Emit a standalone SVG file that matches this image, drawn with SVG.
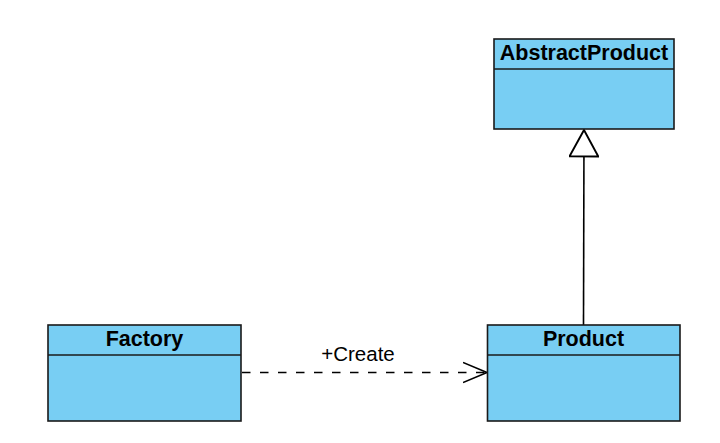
<svg xmlns="http://www.w3.org/2000/svg" width="720" height="443" viewBox="0 0 720 443">
<defs>
<style>
.box{fill:#78CEF3;stroke:#1a1a1a;stroke-width:1.6}
.sep{stroke:#1a1a1a;stroke-width:1.6}
.title{font-family:"Liberation Sans",Arial,sans-serif;font-size:21.5px;font-weight:bold;fill:#000;text-anchor:middle}
.lbl{font-family:"Liberation Sans",Arial,sans-serif;font-size:20.5px;fill:#000;text-anchor:middle}
.edge{stroke:#000;stroke-width:1.6;fill:none}
</style>
<marker id="open" markerUnits="userSpaceOnUse" markerWidth="30" markerHeight="30" refX="24" refY="10" orient="auto" viewBox="0 0 30 20">
<path d="M0,0 L24,10 L0,20" fill="none" stroke="#000" stroke-width="1.6"/>
</marker>
<marker id="tri" markerUnits="userSpaceOnUse" markerWidth="30" markerHeight="30" refX="23" refY="12" orient="auto" viewBox="0 0 25 24">
<path d="M1,0 L23,12 L1,24 Z" fill="#fff" stroke="#000" stroke-width="1.6"/>
</marker>
</defs>
<rect width="720" height="443" fill="#fff"/>
<g id="connectors">
<path class="edge" d="M241,372.5 L487,372.5" stroke-dasharray="8.5,9.5" stroke-dashoffset="-1" marker-end="url(#open)"/>
<text class="lbl" x="358" y="361">+Create</text>
<path class="edge" d="M583.5,325 L584,130" marker-end="url(#tri)"/>
</g>
<g id="AbstractProduct">
<rect class="box" x="494" y="39" width="180" height="90"/>
<line class="sep" x1="494" y1="69" x2="674" y2="69"/>
<text class="title" x="584" y="59.5">AbstractProduct</text>
</g>
<g id="Factory">
<rect class="box" x="48" y="325" width="193" height="96"/>
<line class="sep" x1="48" y1="355" x2="241" y2="355"/>
<text class="title" x="144.5" y="345.5">Factory</text>
</g>
<g id="Product">
<rect class="box" x="487.5" y="325" width="192.5" height="96"/>
<line class="sep" x1="487.5" y1="355" x2="680" y2="355"/>
<text class="title" x="583.5" y="345.5">Product</text>
</g>
</svg>
